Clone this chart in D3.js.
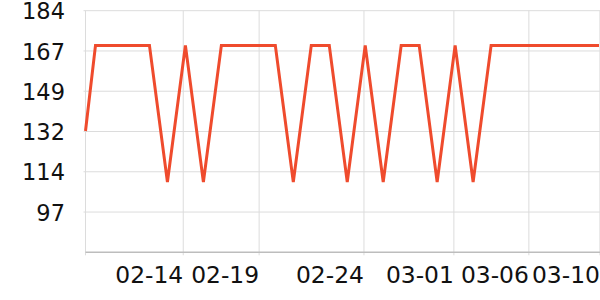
<!DOCTYPE html>
<html>
<head>
<meta charset="utf-8">
<script src="https://cdn.jsdelivr.net/npm/d3@7"></script>
<style>
  body { margin: 0; background: #fff; }
  svg { display: block; font-family: "DejaVu Sans", sans-serif; }
</style>
</head>
<body>
<div id="chart"></div>
<script>
// x position of each point, in slot units (first point is a partial slot)
const slots = [0.444, 1, 2, 3, 4, 5, 6, 7, 8, 9, 10, 11, 12, 13, 14,
  15, 16, 17, 18, 19, 20, 21, 22, 23, 24, 25, 26, 27, 28, 29];
const values = [132, 169, 169, 169, 169, 110, 169, 110, 169, 169, 169, 169, 110, 169, 169,
  110, 169, 110, 169, 169, 110, 169, 110, 169, 169, 169, 169, 169, 169, 169];

// x tick positions (in slot units) and their labels
const xTickAt = [5.88, 10.1, 15.93, 20.93, 25.1, 29.05];
const xTickLabels = ["02-14", "02-19", "02-24", "03-01", "03-06", "03-10"];

// y ticks
const yTicks = [184, 166.6, 149.2, 131.8, 114.4, 97];
const yMin = 79.6;

const width = 600;
const height = 300;
const plotLeft = 85.5, plotRight = 600, plotTop = 10.7, plotBottom = 252.3;

const svg = d3.select("#chart").append("svg")
  .attr("width", width)
  .attr("height", height);

const x = d3.scaleLinear().domain([0.444, 29.056]).range([plotLeft, plotRight]);
const y = d3.scaleLinear().domain([yMin, 184]).range([plotBottom, plotTop]);

// horizontal grid
svg.append("g")
  .selectAll("line")
  .data(yTicks)
  .enter()
  .append("line")
  .attr("x1", plotLeft - 2)
  .attr("x2", plotRight)
  .attr("y1", (d) => y(d))
  .attr("y2", (d) => y(d))
  .attr("stroke", "#dcdcdc")
  .attr("stroke-width", 1);

// vertical grid (left edge + ticks)
svg.append("g")
  .selectAll("line")
  .data([x.domain()[0]].concat(xTickAt))
  .enter()
  .append("line")
  .attr("x1", (d) => x(d))
  .attr("x2", (d) => x(d))
  .attr("y1", plotTop)
  .attr("y2", plotBottom + 3)
  .attr("stroke", "#dcdcdc")
  .attr("stroke-width", 1);

// bottom axis line
svg.append("line")
  .attr("x1", plotLeft)
  .attr("x2", plotRight)
  .attr("y1", plotBottom)
  .attr("y2", plotBottom)
  .attr("stroke", "#bdbdbd")
  .attr("stroke-width", 1.5);

// y labels
svg.append("g")
  .selectAll("text")
  .data(yTicks)
  .enter()
  .append("text")
  .attr("x", 65)
  .attr("y", (d) => y(d) + 8.6)
  .attr("text-anchor", "end")
  .attr("font-size", "22.5px")
  .attr("fill", "#111")
  .text((d) => d3.format(".0f")(d));

// x labels (right-aligned to their tick)
svg.append("g")
  .selectAll("text")
  .data(xTickAt)
  .enter()
  .append("text")
  .attr("x", (d) => x(d))
  .attr("y", 282.5)
  .attr("text-anchor", "end")
  .attr("font-size", "23.4px")
  .attr("fill", "#111")
  .text((d, i) => xTickLabels[i]);

const line = d3.line()
  .x((d, i) => x(slots[i]))
  .y((d) => y(d));

svg.append("path")
  .datum(values)
  .attr("d", line)
  .attr("fill", "none")
  .attr("stroke", "#ef4b2d")
  .attr("stroke-width", 3);
</script>
</body>
</html>
